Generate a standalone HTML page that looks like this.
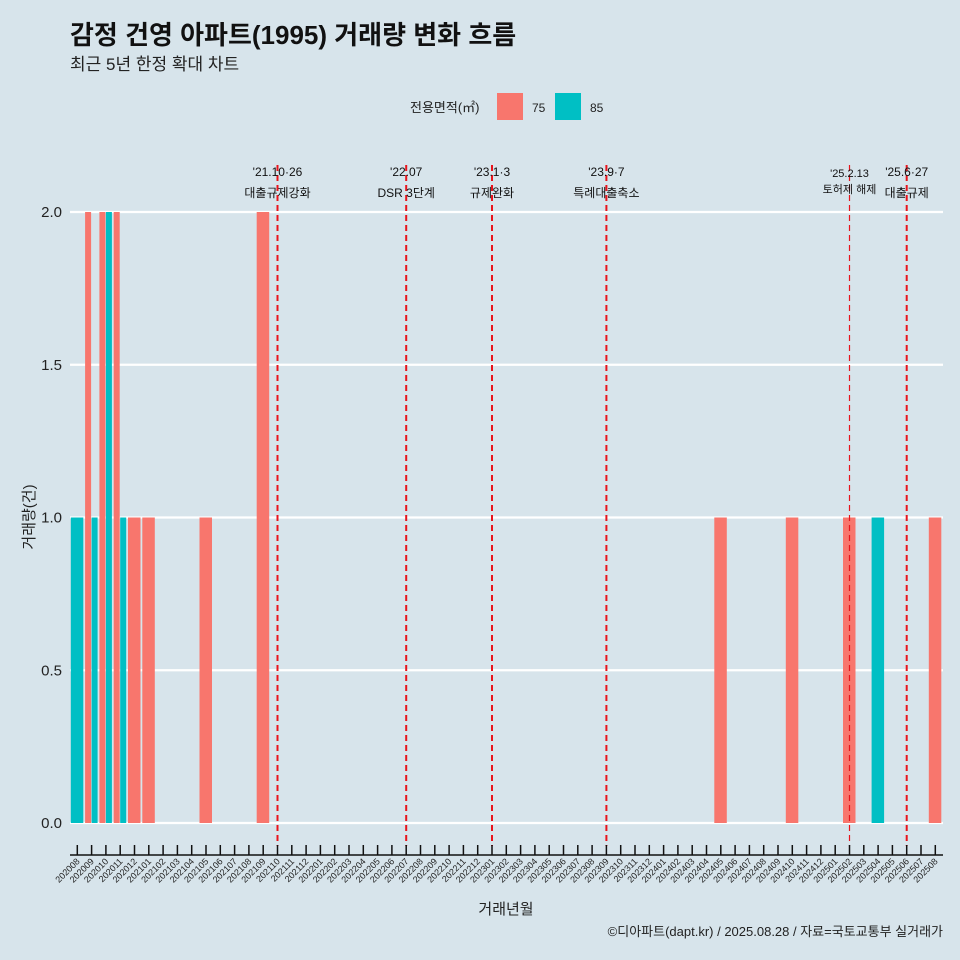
<!DOCTYPE html>
<html><head><meta charset="utf-8"><style>
body{margin:0;background:#d7e4eb;}
svg{display:block;font-family:"Liberation Sans","Noto Sans CJK KR",sans-serif;}
</style></head><body>
<svg id="c" width="960" height="960" viewBox="0 0 960 960">
<rect width="960" height="960" fill="#d7e4eb"/>
<text x="70" y="44" font-size="26" font-weight="bold" fill="#111">감정 건영 아파트(1995) 거래량 변화 흐름</text>
<text x="70" y="70" font-size="17" fill="#222">최근 5년 한정 확대 차트</text>
<g>
<text x="410" y="112" font-size="13" fill="#222">전용면적(㎡)</text>
<rect x="497" y="93" width="26" height="27" fill="#f8766d"/>
<text x="532" y="112" font-size="12" fill="#222">75</text>
<rect x="555" y="93" width="26" height="27" fill="#00bfc4"/>
<text x="590" y="112" font-size="12" fill="#222">85</text>
</g>
<g id="grid"></g><g id="bars"></g><g id="vl"></g><g id="ax"></g>
<text x="506" y="914" font-size="15" text-anchor="middle" fill="#222">거래년월</text>
<text transform="translate(34,517) rotate(-90)" font-size="15" text-anchor="middle" fill="#222">거래량(건)</text>
<text x="943" y="936" font-size="13" text-anchor="end" fill="#222">©디아파트(dapt.kr) / 2025.08.28 / 자료=국토교통부 실거래가</text>
</svg>
<script>
const months=[];for(let y=2020,m=8;;){months.push(''+y+(m<10?'0':'')+m);if(y===2025&&m===8)break;m++;if(m>12){m=1;y++;}}
const seriesNames=['75','85'];
const v75={'202009':2,'202010':2,'202011':2,'202012':1,'202101':1,'202105':1,'202109':2,'202405':1,'202410':1,'202502':1,'202508':1};
const v85={'202008':1,'202009':1,'202010':2,'202011':1,'202504':1};
const yTicks=[0,0.5,1,1.5,2];
const yTickLabels=['0.0','0.5','1.0','1.5','2.0'];
const events=[['202110',"'21.10·26",'대출규제강화'],['202207',"'22.07",'DSR 3단계'],['202301',"'23.1·3",'규제완화'],['202309',"'23.9·7",'특례대출축소'],['202502',"'25.2.13",'토허제 해제'],['202506',"'25.6·27",'대출규제']];
const NS='http://www.w3.org/2000/svg';
function mk(p,t,a){const e=document.createElementNS(NS,t);for(const k in a)e.setAttribute(k,a[k]);document.getElementById(p).appendChild(e);return e;}
const x0=77.3,step=14.3,bw=13;
const xs=i=>x0+i*step;
const ys=v=>823-v*305.5;
yTicks.forEach((t,i)=>{
 const l=mk('grid','line',{x1:70,x2:943,y1:ys(t),y2:ys(t),stroke:'#fff','stroke-width':2.2});
 
 
 const tx=mk('ax','text',{x:62,y:ys(t)+5,'font-size':15,'text-anchor':'end',fill:'#222'});tx.textContent=yTickLabels[i];
 
 
});
months.forEach((m,i)=>{
 const a=v75[m],b=v85[m],c=xs(i);
 const list=[];if(a)list.push(['#f8766d',a,'75']);if(b)list.push(['#00bfc4',b,'85']);
 const w=list.length===2?bw/2:bw;
 list.forEach((d,j)=>{
  const x=list.length===2?c-bw/2+j*w:c-bw/2;
  const r=mk('bars','rect',{x:x,y:ys(d[1]),width:w-0.5,height:ys(0)-ys(d[1]),fill:d[0]});
  
  
 });
 const tk=mk('ax','line',{x1:c,x2:c,y1:845,y2:855,stroke:'#111','stroke-width':1.5});
 
 
 const t=mk('ax','text',{transform:`translate(${c+3},862) rotate(-45)`,'font-size':9,'text-anchor':'end',fill:'#222'});t.textContent=m;
 
 
});
const al=mk('ax','line',{x1:70,x2:943,y1:855,y2:855,stroke:'#111','stroke-width':1.5});


events.forEach(e=>{
 const c=xs(months.indexOf(e[0])),thin=e[0]==='202502';
 const l=mk('vl','line',{x1:c,x2:c,y1:165,y2:846,stroke:'#e8141c','stroke-width':thin?1.2:2,'stroke-dasharray':'6 4'});
 
 
 const fs=thin?11:12;
 const t1=mk('vl','text',{x:c,y:thin?177:176,'font-size':fs,'text-anchor':'middle',fill:'#111'});t1.textContent=e[1];
 
 
 const t2=mk('vl','text',{x:c,y:thin?193:197,'font-size':fs,'text-anchor':'middle',fill:'#111'});t2.textContent=e[2];
 
 
});
</script>
</body></html>
